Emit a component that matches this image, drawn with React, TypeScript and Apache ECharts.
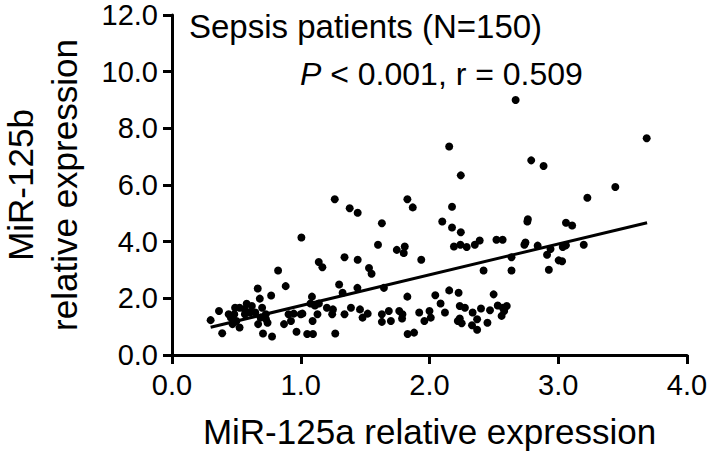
import React, { useEffect, useRef } from "react";
import * as echarts from "echarts";

const xValues: number[] = [
  0.3, 0.365, 0.39, 0.457, 0.47, 0.484, 0.49, 0.525, 0.525, 0.5, 0.566, 0.58, 0.62, 0.606, 0.647,
  0.666, 0.682, 0.669, 0.688, 0.707, 0.729, 0.742, 0.77, 0.777, 0.824, 0.87, 0.883, 0.905, 0.924,
  0.946, 0.967, 1.005, 1.013, 1.05, 1.087, 1.076, 1.095, 1.092, 1.13, 1.141, 1.14, 1.168, 1.203,
  1.244, 1.25, 1.264, 1.268, 1.298, 1.325, 1.34, 1.34, 1.38, 1.39, 1.442, 1.442, 1.44, 1.46, 1.48,
  1.52, 1.53, 1.55, 1.6, 1.63, 1.646, 1.63, 1.63, 1.684, 1.7, 1.746, 1.8, 1.808, 1.765, 1.787,
  1.828, 1.87, 1.828, 1.83, 1.88, 1.92, 1.936, 1.96, 2.0, 2.01, 2.045, 2.086, 2.099, 2.12, 2.153,
  2.153, 2.175, 2.175, 2.19, 2.226, 2.235, 2.243, 2.243, 2.24, 2.235, 2.275, 2.25, 2.289, 2.335,
  2.33, 2.352, 2.37, 2.37, 2.39, 2.4, 2.42, 2.45, 2.47, 2.498, 2.52, 2.568, 2.53, 2.56, 2.6, 2.58,
  2.637, 2.637, 2.669, 2.737, 2.745, 2.76, 2.764, 2.79, 2.84, 2.886, 2.913, 2.927, 2.94, 3.003,
  3.03, 3.035, 3.06, 3.06, 3.108, 3.198, 3.226, 3.443, 3.687, 0.44, 0.7, 0.566, 0.73, 1.11, 1.79,
  2.57, 2.22, 1.0,
];

const yValues: number[] = [
  1.23, 1.55, 0.77, 1.32, 1.09, 1.44, 1.67, 1.67, 0.97, 1.2, 1.61, 1.81, 1.73, 1.5, 1.5,
  2.35, 1.99, 1.09, 1.32, 0.76, 1.44, 1.14, 2.1, 0.65, 2.98, 1.09, 2.43, 1.44, 1.2,
  1.46, 0.82, 4.15, 1.46, 0.74, 2.06, 1.82, 0.74, 1.2, 1.44, 1.82, 3.28, 3.1, 1.67,
  1.44, 1.61, 5.5, 0.76, 2.49, 2.2, 3.45, 1.44, 5.18, 1.67, 5.02, 3.36, 2.37, 1.61, 1.32,
  1.46, 3.07, 2.87, 3.89, 4.65, 2.37, 1.44, 1.17, 1.55, 1.2, 3.71, 3.6, 3.83, 1.55, 1.29,
  5.5, 5.21, 2.06, 0.74, 0.79, 1.5, 3.36, 1.2, 1.55, 1.32, 2.11, 1.82, 4.71, 1.5, 7.36,
  2.28, 5.23, 4.5, 3.83, 2.2, 1.29, 6.34, 4.33, 3.89, 1.73, 1.67, 1.12, 3.81, 1.5,
  1.05, 3.89, 0.89, 1.26, 4.04, 1.64, 2.98, 1.14, 1.58, 2.14, 4.07, 4.07, 1.75, 1.38, 1.73, 1.55,
  2.98, 3.45, 9.0, 3.89, 3.97, 4.71, 4.79, 6.87, 3.86, 6.67, 3.54, 3.01, 3.74, 3.34,
  3.31, 3.81, 3.87, 4.67, 4.57, 3.89, 5.55, 5.93, 7.65, 1.44, 1.67, 1.44, 1.26, 1.75, 1.44,
  1.67, 1.2, 1.44,
];

const fitX: number[] = [0.3, 3.69];
const fitY: number[] = [0.98, 4.67];

const xTicks: string[] = ["0.0", "1.0", "2.0", "3.0", "4.0"];
const yTicks: string[] = ["0.0", "2.0", "4.0", "6.0", "8.0", "10.0", "12.0"];

const xTitle = "MiR-125a relative expression";
const yTitle = "MiR-125b\nrelative expression";
const groupLabel = "Sepsis patients (N=150)";
const statP = "P";
const statRest = " < 0.001, r = 0.509";

const FONT = "'Liberation Sans', Arial, Helvetica, sans-serif";

export default function App() {
  const ref = useRef<HTMLDivElement>(null);
  useEffect(() => {
    if (!ref.current) return;
    const chart = echarts.init(ref.current, null, { renderer: "svg" });
    const points = xValues.map((x, i) => [x, yValues[i]]);
    const fit = fitX.map((x, i) => [x, fitY[i]]);
    chart.setOption({
      animation: false,
      backgroundColor: "#ffffff",
      grid: {
        left: 172,
        right: 22,
        top: 15,
        bottom: 105,
        containLabel: false,
        outerBoundsMode: "none",
      },
      xAxis: {
        type: "value",
        min: 0,
        max: 4,
        interval: 1,
        name: xTitle,
        nameLocation: "middle",
        nameGap: 59,
        nameTextStyle: { fontFamily: FONT, fontSize: 35, color: "#000" },
        axisLine: { show: true, lineStyle: { color: "#000", width: 3 } },
        axisTick: { show: true, length: 9, lineStyle: { color: "#000", width: 3 } },
        axisLabel: {
          fontFamily: FONT,
          fontSize: 29,
          color: "#000",
          margin: 15,
          formatter: (v: number) => xTicks[Math.round(v)] ?? "",
        },
        splitLine: { show: false },
      },
      yAxis: {
        type: "value",
        min: 0,
        max: 12,
        interval: 2,
        name: yTitle,
        nameLocation: "middle",
        nameRotate: 90,
        nameGap: 86,
        nameTextStyle: { fontFamily: FONT, fontSize: 35, color: "#000", lineHeight: 44, align: "center" },
        axisLine: { show: true, lineStyle: { color: "#000", width: 3 } },
        axisTick: { show: true, length: 9, lineStyle: { color: "#000", width: 3 } },
        axisLabel: {
          fontFamily: FONT,
          fontSize: 29,
          lineHeight: 24,
          color: "#000",
          margin: 14,
          formatter: (v: number) => yTicks[Math.round(v / 2)] ?? "",
        },
        splitLine: { show: false },
      },
      graphic: [
        {
          type: "text",
          left: 189,
          top: 10,
          style: { text: groupLabel, fontFamily: FONT, fontSize: 33, fill: "#000" },
        },
        {
          type: "text",
          left: 300,
          top: 58,
          style: {
            text: `{i|${statP}}{n|${statRest}}`,
            rich: {
              i: { fontFamily: FONT, fontSize: 32, fontStyle: "italic", fill: "#000" },
              n: { fontFamily: FONT, fontSize: 32, fill: "#000" },
            },
            fill: "#000",
          },
        },
      ],
      series: [
        {
          type: "scatter",
          data: points,
          symbol: "circle",
          symbolSize: 8,
          itemStyle: { color: "#000", opacity: 1 },
          silent: true,
        },
        {
          type: "line",
          data: fit,
          showSymbol: false,
          symbol: "none",
          lineStyle: { color: "#000", width: 3 },
          silent: true,
        },
      ],
    });
    return () => chart.dispose();
  }, []);
  return (
    <div
      ref={ref}
      style={{ position: "fixed", left: 0, top: 0, width: 709, height: 460, background: "#fff" }}
    />
  );
}
